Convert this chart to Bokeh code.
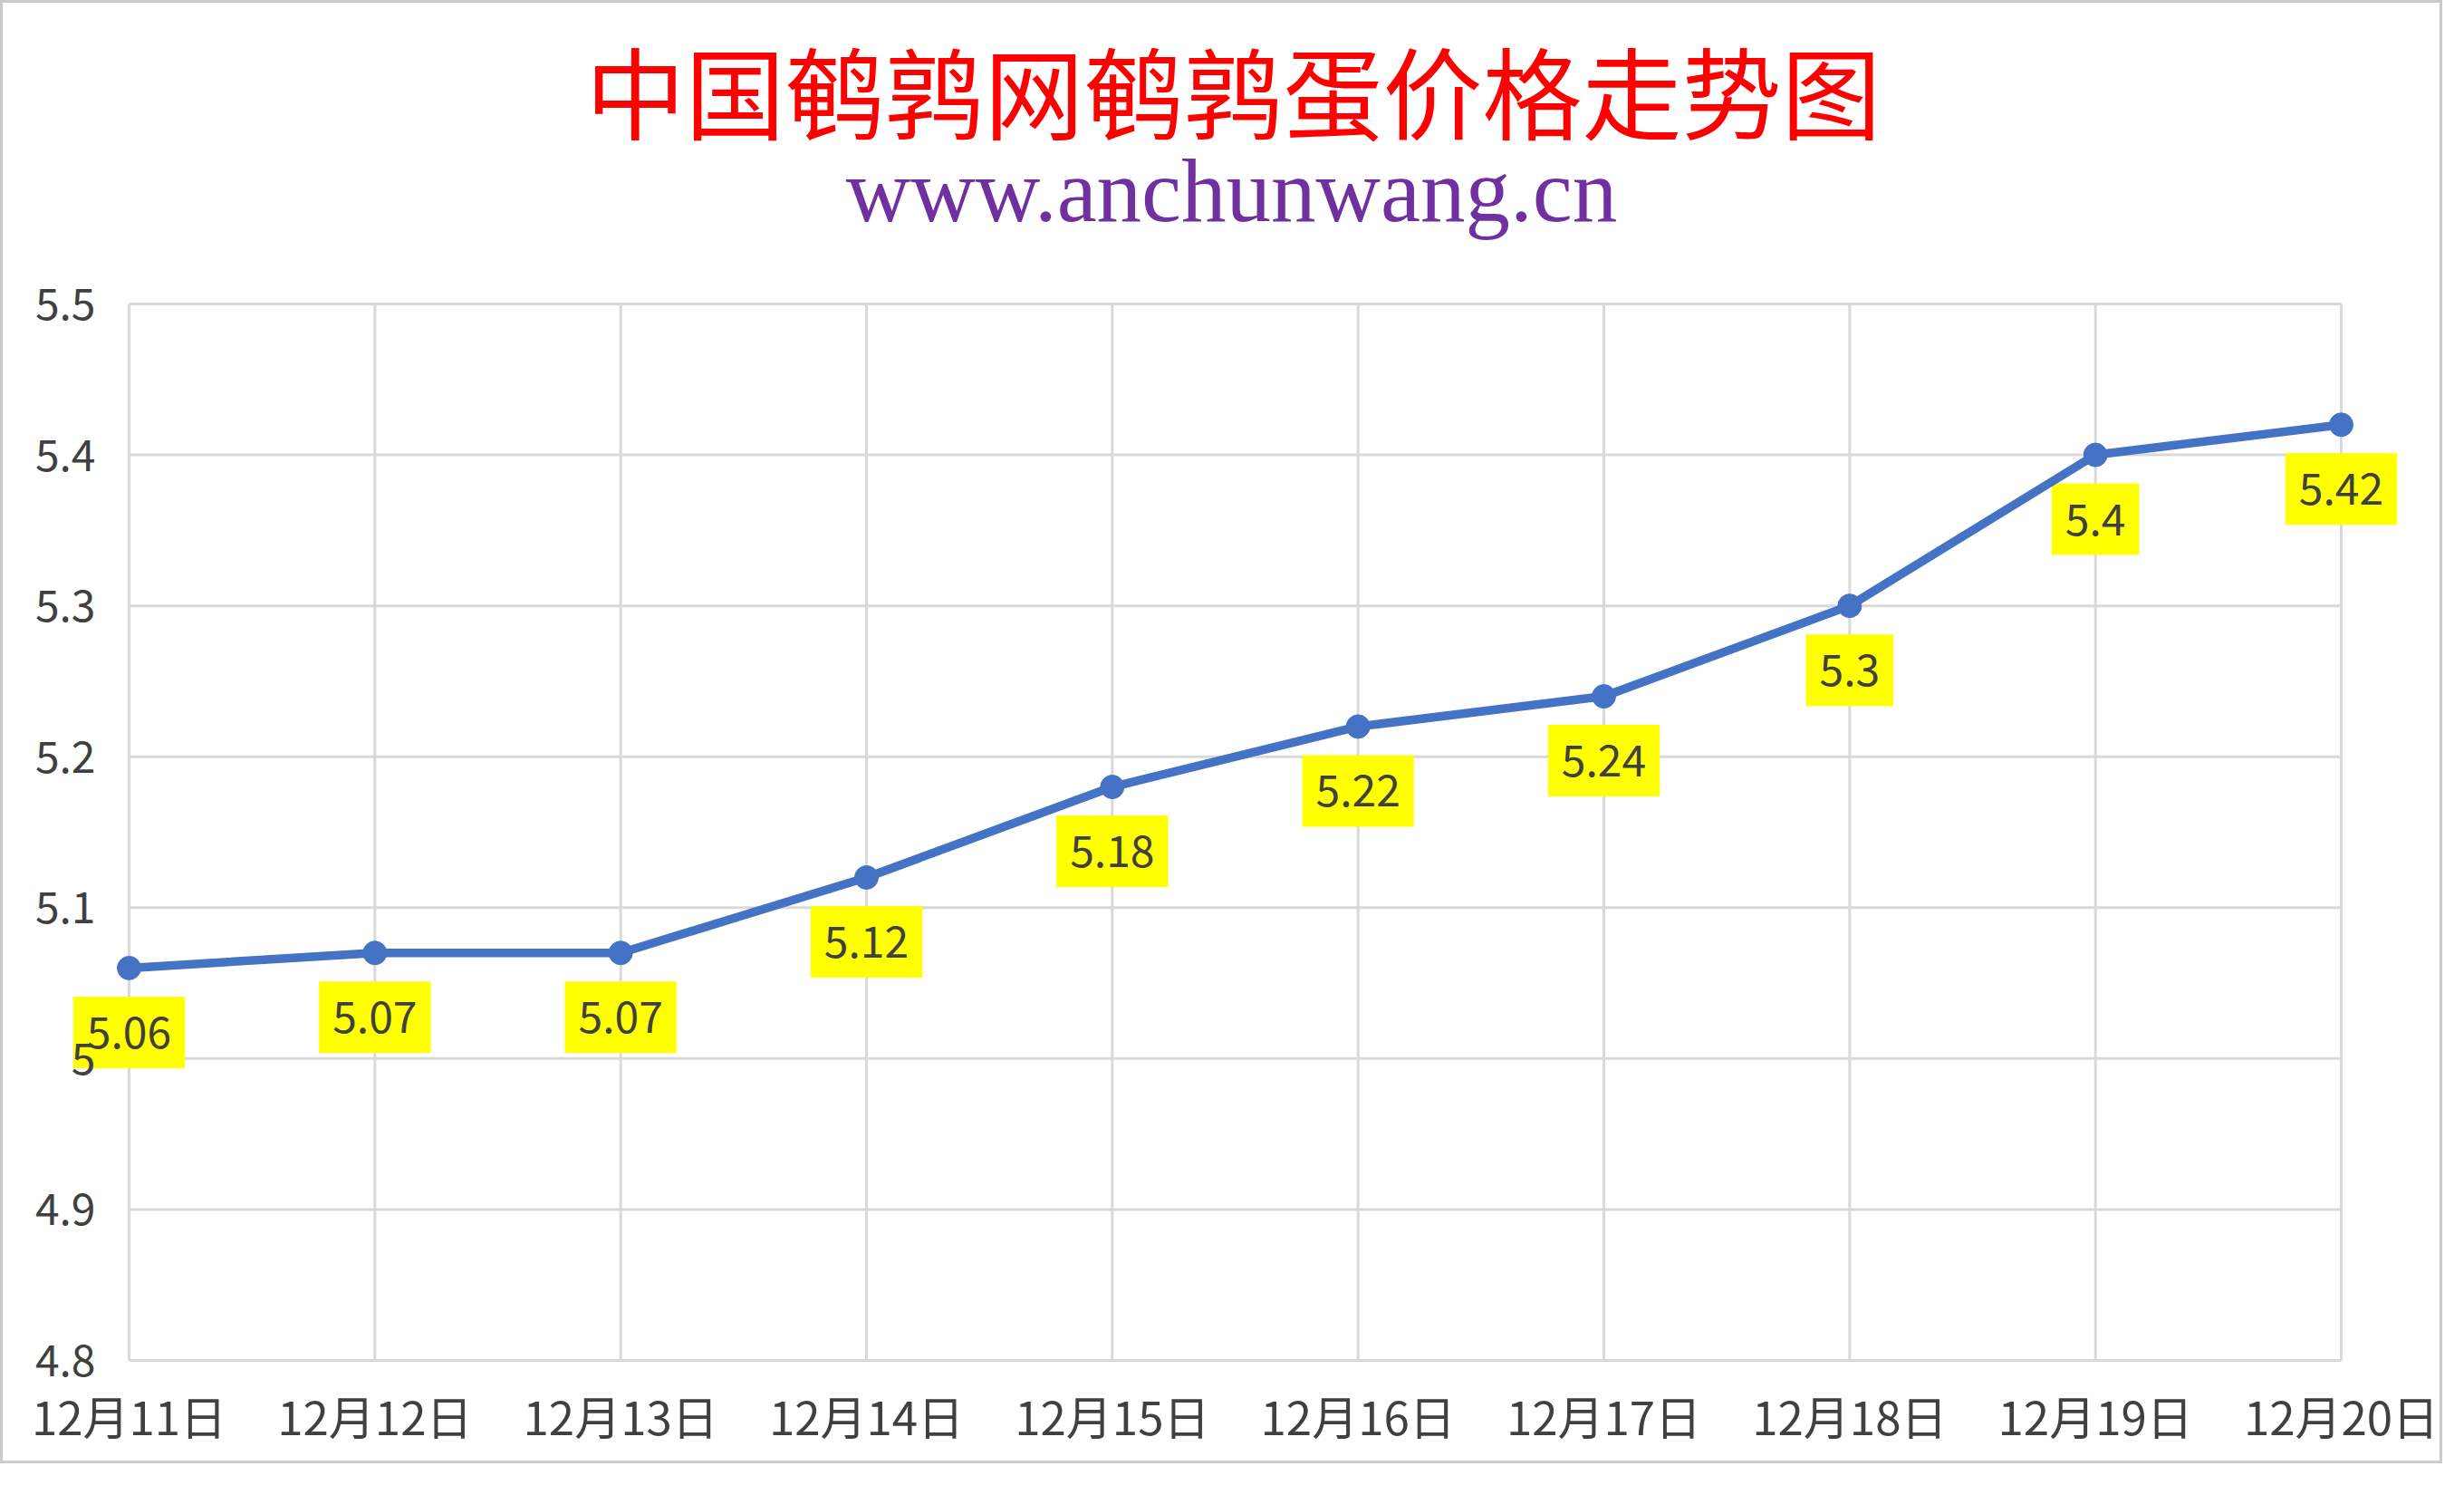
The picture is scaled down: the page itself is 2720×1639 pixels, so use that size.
from bokeh.plotting import figure
from bokeh.models import ColumnDataSource, FixedTicker, Label
from bokeh.embed import file_html
from bokeh.resources import INLINE

dates = ["12月11日", "12月12日", "12月13日", "12月14日", "12月15日",
         "12月16日", "12月17日", "12月18日", "12月19日", "12月20日"]
prices = [5.06, 5.07, 5.07, 5.12, 5.18, 5.22, 5.24, 5.3, 5.4, 5.42]
y_ticks = [4.8, 4.9, 5.0, 5.1, 5.2, 5.3, 5.4, 5.5]
y_tick_labels = ["4.8", "4.9", "5", "5.1", "5.2", "5.3", "5.4", "5.5"]

CJK = "Noto Sans CJK SC"
GREY_TEXT = "#404040"
GRID = "#D9D9D9"
BLUE = "#4472C4"

# canvas size and where the gridded area sits in it (pixels)
W, H = 2696, 1615
GRID_L, GRID_R, GRID_T, GRID_B = 139, 2581, 332, 1498
# the frame is larger than the gridded area so the value boxes and titles are not clipped
FRAME_L, FRAME_R, FRAME_T, FRAME_B = 60, 2670, 0, 1502

xs = list(range(len(dates)))
n = len(dates) - 1
px_x = (GRID_R - GRID_L) / n
px_y = (GRID_B - GRID_T) / (y_ticks[-1] - y_ticks[0])
x_range = (-(GRID_L - FRAME_L) / px_x, n + (FRAME_R - GRID_R) / px_x)
y_range = (y_ticks[0] - (FRAME_B - GRID_B) / px_y, y_ticks[-1] + (GRID_T - FRAME_T) / px_y)

source = ColumnDataSource(data=dict(x=xs, price=prices, date=dates))

p = figure(width=W, height=H, output_backend="svg", toolbar_location=None,
           x_range=x_range, y_range=y_range,
           min_border_left=FRAME_L, min_border_right=W - FRAME_R,
           min_border_top=FRAME_T, min_border_bottom=H - FRAME_B)
p.styles = {"border": "3px solid #CBCBCB"}
p.outline_line_color = None
p.background_fill_color = "white"
p.border_fill_color = "white"
p.grid.visible = False

# axes
p.xaxis.ticker = FixedTicker(ticks=xs)
p.xaxis.major_label_overrides = {i: d for i, d in zip(xs, dates)}
p.yaxis.ticker = FixedTicker(ticks=y_ticks)
p.yaxis.major_label_overrides = {t: s for t, s in zip(y_ticks, y_tick_labels)}
for ax in (p.xaxis, p.yaxis):
    ax.axis_line_color = None
    ax.major_tick_line_color = None
    ax.minor_tick_line_color = None
    ax.major_tick_out = 0
    ax.major_tick_in = 0
    ax.major_label_text_font = CJK
    ax.major_label_text_color = GREY_TEXT
p.xaxis.major_label_text_font_size = "51px"
p.yaxis.major_label_text_font_size = "48px"
p.xaxis.major_label_standoff = 19
p.yaxis.major_label_standoff = -42

# grid lines only over the category / tick span
p.segment(x0=[xs[0]] * len(y_ticks), x1=[xs[-1]] * len(y_ticks), y0=y_ticks, y1=y_ticks,
          line_color=GRID, line_width=3, level="image")
p.segment(x0=xs, x1=xs, y0=[y_ticks[0]] * len(xs), y1=[y_ticks[-1]] * len(xs),
          line_color=GRID, line_width=3, level="image")

# titles, in screen units from the frame's bottom-left corner
p.add_layout(Label(x=1298, y=FRAME_B - 94, x_units="screen", y_units="screen",
                   text="中国鹌鹑网鹌鹑蛋价格走势图", text_font=CJK,
                   text_font_size="110px", text_color="#FF0000",
                   text_align="center", text_baseline="middle"))
p.add_layout(Label(x=1296, y=FRAME_B - 207, x_units="screen", y_units="screen",
                   text="www.anchunwang.cn", text_font="Liberation Serif",
                   text_font_size="99px", text_color="#7030A0",
                   text_align="center", text_baseline="alphabetic"))

# value labels in yellow boxes under each point (under the line and axis labels)
for x, v in zip(xs, prices):
    p.add_layout(Label(x=x, y=v, text=f"{v:g}", y_offset=-71,
                       text_align="center", text_baseline="middle",
                       text_font=CJK, text_font_size="48px", text_color=GREY_TEXT,
                       background_fill_color="#FFFF00", padding=(15, 22),
                       level="underlay"))

p.line("x", "price", source=source, line_color=BLUE, line_width=9.5)
p.scatter("x", "price", source=source, size=26, fill_color=BLUE, line_color=BLUE)

open("out.html", "w").write(file_html(p, INLINE))
